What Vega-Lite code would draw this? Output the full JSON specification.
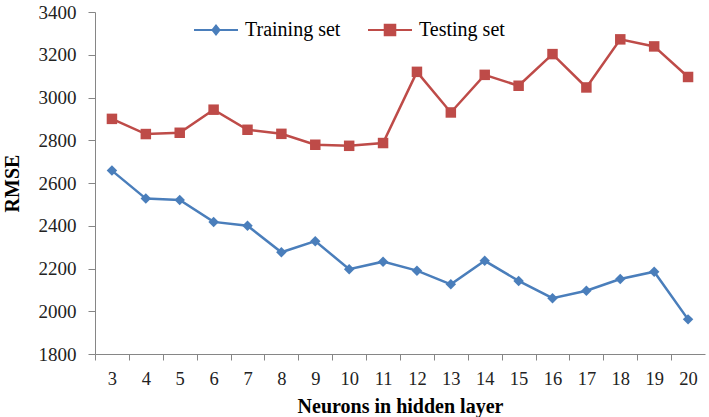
{
  "$schema": "https://vega.github.io/schema/vega-lite/v6.json",
  "width": 610,
  "height": 342,
  "autosize": "none",
  "padding": {"left": 95, "top": 12, "right": 4, "bottom": 63},
  "background": "white",
  "config": {
    "view": {"stroke": null},
    "font": "Liberation Serif"
  },
  "data": {
    "values": [
      {"n": 3, "series": "Training set", "rmse": 2658},
      {"n": 4, "series": "Training set", "rmse": 2527},
      {"n": 5, "series": "Training set", "rmse": 2521},
      {"n": 6, "series": "Training set", "rmse": 2418},
      {"n": 7, "series": "Training set", "rmse": 2400},
      {"n": 8, "series": "Training set", "rmse": 2276},
      {"n": 9, "series": "Training set", "rmse": 2328},
      {"n": 10, "series": "Training set", "rmse": 2197},
      {"n": 11, "series": "Training set", "rmse": 2232},
      {"n": 12, "series": "Training set", "rmse": 2190},
      {"n": 13, "series": "Training set", "rmse": 2126},
      {"n": 14, "series": "Training set", "rmse": 2236},
      {"n": 15, "series": "Training set", "rmse": 2142},
      {"n": 16, "series": "Training set", "rmse": 2061},
      {"n": 17, "series": "Training set", "rmse": 2096},
      {"n": 18, "series": "Training set", "rmse": 2151},
      {"n": 19, "series": "Training set", "rmse": 2185},
      {"n": 20, "series": "Training set", "rmse": 1962},
      {"n": 3, "series": "Testing set", "rmse": 2900},
      {"n": 4, "series": "Testing set", "rmse": 2829},
      {"n": 5, "series": "Testing set", "rmse": 2835},
      {"n": 6, "series": "Testing set", "rmse": 2943},
      {"n": 7, "series": "Testing set", "rmse": 2849},
      {"n": 8, "series": "Testing set", "rmse": 2830},
      {"n": 9, "series": "Testing set", "rmse": 2779},
      {"n": 10, "series": "Testing set", "rmse": 2774},
      {"n": 11, "series": "Testing set", "rmse": 2787},
      {"n": 12, "series": "Testing set", "rmse": 3120},
      {"n": 13, "series": "Testing set", "rmse": 2930},
      {"n": 14, "series": "Testing set", "rmse": 3106},
      {"n": 15, "series": "Testing set", "rmse": 3055},
      {"n": 16, "series": "Testing set", "rmse": 3203},
      {"n": 17, "series": "Testing set", "rmse": 3047},
      {"n": 18, "series": "Testing set", "rmse": 3272},
      {"n": 19, "series": "Testing set", "rmse": 3239},
      {"n": 20, "series": "Testing set", "rmse": 3096}
    ]
  },
  "encoding": {
    "x": {
      "field": "n",
      "type": "ordinal",
      "scale": {"type": "point", "padding": 0.5},
      "axis": {
        "title": "Neurons in hidden  layer",
        "titleFont": "Liberation Serif",
        "titleFontSize": 20,
        "titleFontWeight": "bold",
        "titleColor": "#000000",
        "titlePadding": 9,
        "labelFont": "Liberation Serif",
        "labelFontSize": 18.5,
        "labelColor": "#222222",
        "labelAngle": 0,
        "labelPadding": 9,
        "tickOffset": -16.94,
        "labelOffset": 16.94,
        "domainColor": "#868686",
        "tickColor": "#868686",
        "tickSize": 6,
        "grid": false
      }
    },
    "y": {
      "field": "rmse",
      "type": "quantitative",
      "scale": {"domain": [1800, 3400], "nice": false, "zero": false},
      "axis": {
        "title": "RMSE",
        "format": "d",
        "values": [1800, 2000, 2200, 2400, 2600, 2800, 3000, 3200, 3400],
        "titleFont": "Liberation Serif",
        "titleFontSize": 20,
        "titleFontWeight": "bold",
        "titleColor": "#000000",
        "titlePadding": 16,
        "labelFont": "Liberation Serif",
        "labelFontSize": 19,
        "labelColor": "#222222",
        "labelPadding": 12,
        "domainColor": "#868686",
        "tickColor": "#868686",
        "tickSize": 7,
        "grid": false
      }
    },
    "color": {
      "field": "series",
      "type": "nominal",
      "scale": {"domain": ["Training set", "Testing set"], "range": ["#4A7EBB", "#BE4B48"]},
      "legend": {
        "title": null,
        "orient": "none",
        "direction": "horizontal",
        "legendX": 98,
        "legendY": -5,
        "labelFont": "Liberation Serif",
        "labelFontSize": 20,
        "labelColor": "#000000",
        "labelOffset": 6,
        "columnPadding": 23,
        "symbolSize": 1936,
        "symbolStrokeWidth": 2,
        "encode": {
          "symbols": {
            "update": {
              "shape": {"signal": "datum.value === 'Training set' ? 'M-1,0L1,0M0,-0.2L0.16,0L0,0.2L-0.16,0Z' : 'M-1,0L1,0M-0.24,-0.24L0.24,-0.24L0.24,0.24L-0.24,0.24Z'"},
              "fill": {"signal": "scale('color', datum.value)"},
              "stroke": {"signal": "scale('color', datum.value)"},
              "strokeWidth": {"value": 2},
              "opacity": {"value": 1},
              "fillOpacity": {"value": 1}
            }
          }
        }
      }
    }
  },
  "layer": [
    {
      "mark": {"type": "line", "strokeWidth": 2.5}
    },
    {
      "transform": [{"filter": "datum.series === 'Training set'"}],
      "mark": {"type": "point", "filled": true, "opacity": 1, "shape": "diamond", "size": 110}
    },
    {
      "transform": [{"filter": "datum.series === 'Testing set'"}],
      "mark": {"type": "point", "filled": true, "opacity": 1, "shape": "square", "size": 110}
    }
  ]
}
